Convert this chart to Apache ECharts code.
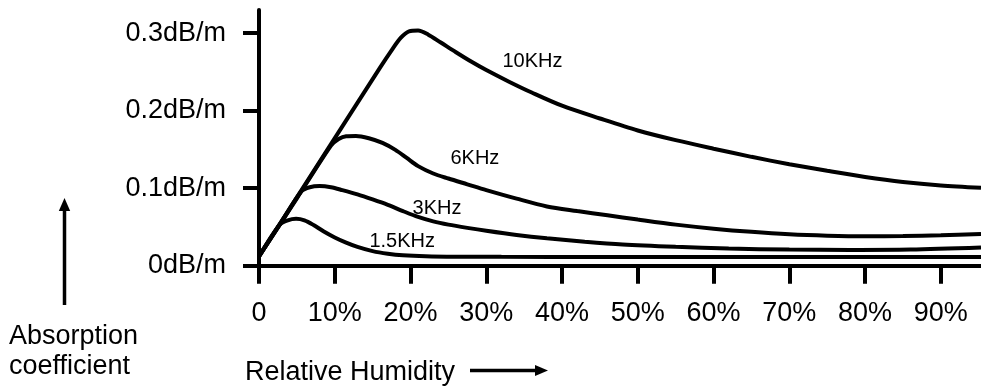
<!DOCTYPE html>
<html><head><meta charset="utf-8">
<script src="https://cdn.jsdelivr.net/npm/echarts@6/dist/echarts.min.js"></script>
<style>html,body{margin:0;padding:0;background:#fff}#c{width:981px;height:388px}</style>
</head><body><div id="c"></div>
<script>
// ---- data ----
const xTicks = [0, 10, 20, 30, 40, 50, 60, 70, 80, 90];
const xTickLabels = ['0', '10%', '20%', '30%', '40%', '50%', '60%', '70%', '80%', '90%'];
const yTicks = [0, 0.1, 0.2, 0.3];
const yTickLabels = ['0dB/m', '0.1dB/m', '0.2dB/m', '0.3dB/m'];
const seriesNames = ['10KHz', '6KHz', '3KHz', '1.5KHz'];
// [relative humidity %, absorption dB/m]
const curve10k = [[0,0.012],[8,0.134],[16,0.256],[17.5,0.278],[18.7,0.294],[19.8,0.3025],[21.0,0.3035],[22.3,0.2985],[24,0.288],[26,0.2755],[28,0.2635],[30,0.2525],[33,0.2375],[36,0.2235],[40,0.2065],[45,0.19],[50,0.1745],[55,0.162],[60,0.151],[65,0.1405],[70,0.131],[75,0.1225],[80,0.1145],[85,0.108],[90,0.1035],[95.3,0.1005]];
const curve6k = [[0,0.012],[5,0.087],[9.5,0.155],[10.5,0.1635],[11.5,0.1672],[12.8,0.1675],[14.5,0.1645],[16.3,0.1585],[18,0.1495],[19.5,0.139],[21,0.1285],[23,0.119],[25,0.1125],[27.5,0.105],[30,0.0975],[34,0.0865],[38,0.0765],[42,0.0705],[46,0.065],[50,0.0595],[55,0.053],[60,0.0478],[65,0.0437],[70,0.0406],[75,0.0388],[80,0.038],[85,0.0382],[90,0.0392],[95.3,0.041]];
const curve3k = [[0,0.012],[3,0.057],[5.6,0.096],[6.7,0.1012],[8,0.1027],[9.5,0.1012],[11,0.0975],[13,0.092],[15,0.0855],[17,0.0785],[19,0.0705],[21,0.063],[23,0.0572],[25,0.053],[27.5,0.0488],[30,0.045],[34,0.0396],[38,0.0353],[43,0.031],[48,0.0275],[55,0.0245],[62,0.0222],[70,0.0208],[78,0.0203],[86,0.0208],[95.3,0.0235]];
const curve1k5 = [[0,0.012],[2.7,0.0526],[3.8,0.0585],[4.9,0.0605],[6,0.0585],[7.2,0.0525],[8.5,0.0445],[10,0.0365],[11.5,0.0298],[13,0.0243],[15,0.0188],[17,0.0155],[19,0.0135],[22,0.0122],[26,0.0116],[32,0.0114],[45,0.0113],[70,0.0112],[95.3,0.0112]];
const curveLabelAt = [[36.1,0.264],[28.5,0.1385],[23.5,0.074],[18.9,0.0315]];
const xMax = 95.3, yMax = 0.33;

// ---- chart ----
const FONT = '"Liberation Sans", Arial, Helvetica, sans-serif';
const curves = [curve10k, curve6k, curve3k, curve1k5];
const chart = echarts.init(document.getElementById('c'), null, {renderer: 'canvas'});
chart.setOption({
  backgroundColor: '#ffffff',
  animation: false,
  grid: {left: 259, right: 0, top: 10, bottom: 122.3, containLabel: false},
  xAxis: {
    type: 'value', min: 0, max: xMax,
    splitLine: {show: false},
    axisLine: {lineStyle: {color: '#000', width: 4}},
    axisTick: {show: true, length: 18, lineStyle: {color: '#000', width: 4}, customValues: xTicks},
    axisLabel: {customValues: xTicks, margin: 34, color: '#000', fontSize: 27, fontFamily: FONT,
      formatter: v => xTickLabels[xTicks.indexOf(v)] ?? ''}
  },
  yAxis: {
    type: 'value', min: 0, max: yMax,
    splitLine: {show: false},
    axisLine: {show: true, lineStyle: {color: '#000', width: 4}},
    axisTick: {show: true, length: 16, lineStyle: {color: '#000', width: 4}, customValues: yTicks},
    axisLabel: {customValues: yTicks, margin: 33, color: '#000', fontSize: 27, fontFamily: FONT,
      formatter: v => { const i = yTicks.findIndex(t => Math.abs(t - v) < 1e-9); return i >= 0 ? yTickLabels[i] : ''; }}
  },
  series: curves.map((d, i) => ({
    type: 'line', name: seriesNames[i], data: d, showSymbol: false, smooth: 0.3,
    lineStyle: {color: '#000', width: 4}, z: 3,
    markPoint: {
      symbol: 'circle', symbolSize: 1, itemStyle: {color: 'transparent'},
      label: {show: true, position: 'inside', formatter: '{b}', color: '#000', fontSize: 20, fontFamily: FONT},
      data: [{name: seriesNames[i], coord: curveLabelAt[i]}]
    }
  })),
  graphic: [
    {type: 'line', shape: {x1: 64.5, y1: 305, x2: 64.5, y2: 208}, style: {stroke: '#000', lineWidth: 3.5}},
    {type: 'polygon', shape: {points: [[64.5, 198], [58.8, 211], [70.2, 211]]}, style: {fill: '#000'}},
    {type: 'text', left: 9, top: 322, style: {text: 'Absorption\ncoefficient', font: '27px ' + FONT, fill: '#000', lineHeight: 30}},
    {type: 'text', left: 245, top: 359, style: {text: 'Relative Humidity', font: '27px ' + FONT, fill: '#000'}},
    {type: 'line', shape: {x1: 470, y1: 370.5, x2: 538, y2: 370.5}, style: {stroke: '#000', lineWidth: 3.5}},
    {type: 'polygon', shape: {points: [[548, 370.5], [535, 365], [535, 376]]}, style: {fill: '#000'}}
  ]
});
</script></body></html>
